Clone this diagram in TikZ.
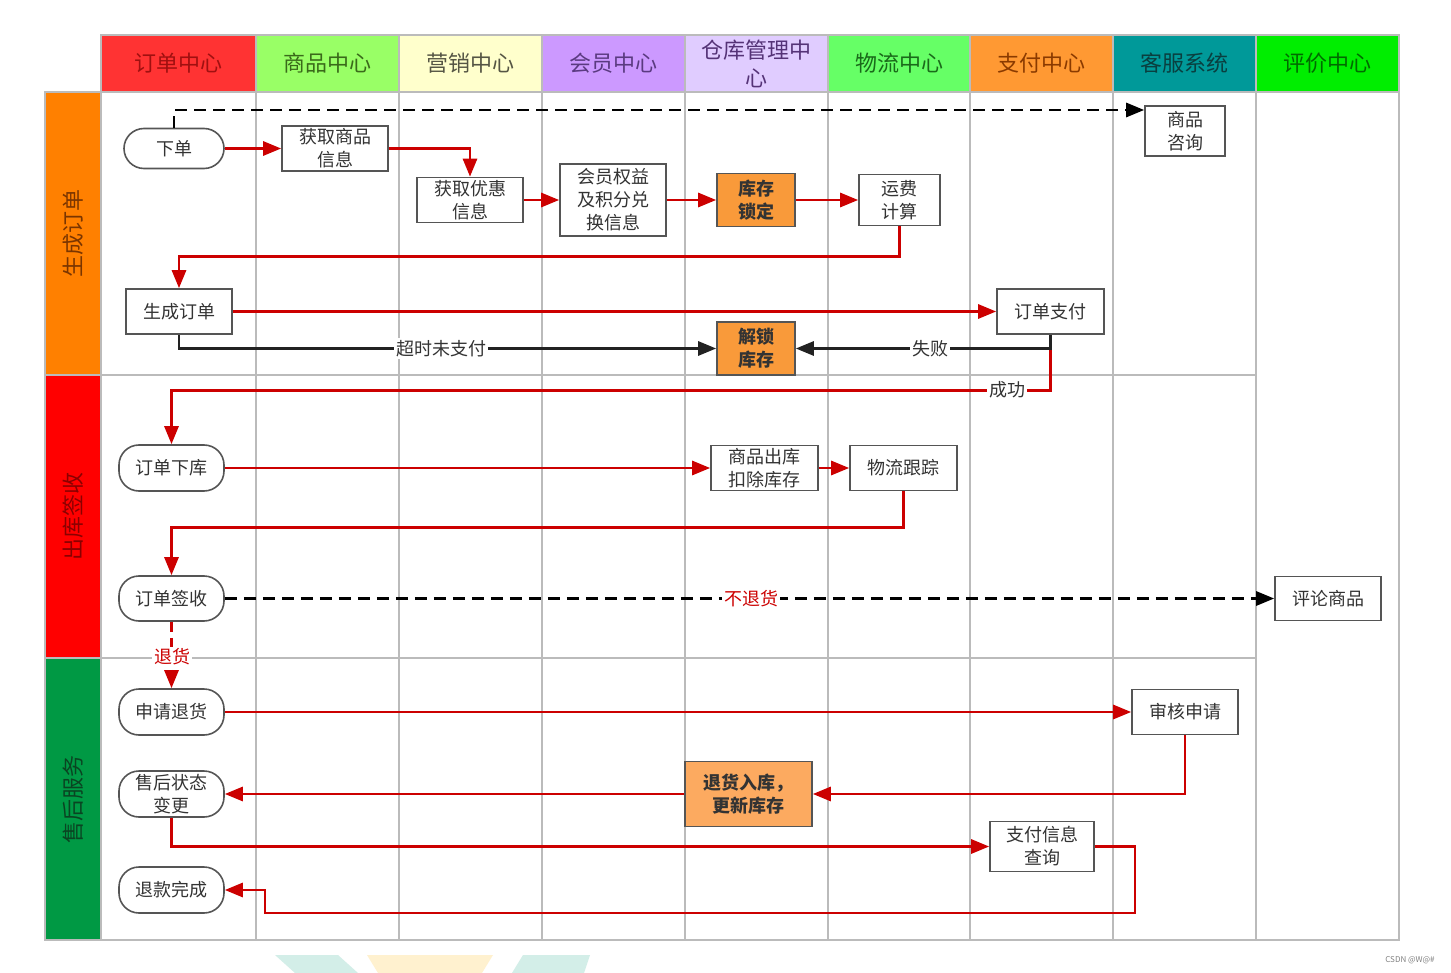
\documentclass[tikz,border=0pt]{standalone}
\usepackage{fontspec}
\setmainfont{Noto Sans CJK SC}
\usetikzlibrary{arrows.meta}
\definecolor{gridc}{HTML}{BBBBBB}
\definecolor{redl}{HTML}{CC0000}
\definecolor{blk}{HTML}{222222}
\definecolor{boxc}{HTML}{555555}
\definecolor{txt}{HTML}{333333}
\definecolor{orA}{HTML}{F99A3A}
\definecolor{orB}{HTML}{FCAA60}
\definecolor{h1}{HTML}{FF3333}\definecolor{t1}{HTML}{A01010}
\definecolor{h2}{HTML}{99FF66}\definecolor{t2}{HTML}{3A6A1A}
\definecolor{h3}{HTML}{FFFFCC}\definecolor{t3}{HTML}{555544}
\definecolor{h4}{HTML}{CC99FF}\definecolor{t4}{HTML}{5A3A80}
\definecolor{h5}{HTML}{E0CCFF}\definecolor{t5}{HTML}{553377}
\definecolor{h6}{HTML}{66FF66}\definecolor{t6}{HTML}{1A6A1A}
\definecolor{h7}{HTML}{FF9933}\definecolor{t7}{HTML}{8A3A00}
\definecolor{h8}{HTML}{009999}\definecolor{t8}{HTML}{0A3F3F}
\definecolor{h9}{HTML}{00EE00}\definecolor{t9}{HTML}{006A00}
\definecolor{l1}{HTML}{FF8000}\definecolor{lt1}{HTML}{7A3500}
\definecolor{l2}{HTML}{FF0000}\definecolor{lt2}{HTML}{8A0000}
\definecolor{l3}{HTML}{009944}\definecolor{lt3}{HTML}{0A4422}
\definecolor{wmteal}{HTML}{D3EEE8}
\definecolor{wmyel}{HTML}{FFF1CF}
\begin{document}
\begin{tikzpicture}[x=0.5pt,y=-0.5pt,
  hdr/.style={draw=gridc, line width=1pt, minimum height=28.5pt, inner sep=0pt, align=center, font=\fontsize{11}{14}\selectfont},
  lane/.style={draw=gridc, line width=1pt, rotate=90, minimum width=141.5pt, minimum height=28pt, inner sep=0pt, font=\fontsize{11}{14}\selectfont},
  box/.style={draw=boxc, line width=0.8pt, fill=white, text=txt, align=center, inner sep=0pt, font=\fontsize{9}{11.5}\selectfont},
  rbox/.style={box, rounded corners=10pt},
  obox/.style={box, fill=orA, font=\bfseries\fontsize{9}{11.5}\selectfont},
  lbl/.style={fill=white, inner sep=1pt, text=txt, font=\fontsize{9}{11}\selectfont},
  rl/.style={draw=redl, line width=1.4pt, -{Triangle[length=9pt,width=7pt]}},
  bl/.style={draw=blk, line width=1.4pt, -{Triangle[length=9pt,width=7pt]}},
  dk/.style={draw=black, line width=1.4pt, dash pattern=on 6pt off 3.5pt, -{Triangle[length=9pt,width=7pt]}},
  dr/.style={draw=redl, line width=1.4pt, dash pattern=on 5pt off 3pt, -{Triangle[length=9pt,width=7pt]}}
]
\useasboundingbox (0,0) rectangle (1451,973);
\fill[white] (0,0) rectangle (1451,973);
% watermark
\fill[wmteal] (275,955) -- (338,955) -- (358,973) -- (295,973) -- cycle;
\fill[wmyel] (367,955) -- (493,955) -- (482,973) -- (378,973) -- cycle;
\fill[wmteal] (523,955) -- (590,955) -- (584,973) -- (512,973) -- cycle;
\node[text=gray, font=\fontsize{4}{5}\selectfont, inner sep=0pt] (csdn) at (1410,960) {CSDN @W@\#};
% headers
\node[hdr, fill=h1, text=t1, minimum width=77.5pt] (H1) at (178.5,63.5) {订单中心};
\node[hdr, fill=h2, text=t2, minimum width=71.5pt] (H2) at (327.5,63.5) {商品中心};
\node[hdr, fill=h3, text=t3, minimum width=71.5pt] (H3) at (470.5,63.5) {营销中心};
\node[hdr, fill=h4, text=t4, minimum width=71.5pt] (H4) at (613.5,63.5) {会员中心};
\node[hdr, fill=h5, text=t5, minimum width=71.5pt] (H5) at (756.5,63.5) {仓库管理中\\心};
\node[hdr, fill=h6, text=t6, minimum width=71pt] (H6) at (899,63.5) {物流中心};
\node[hdr, fill=h7, text=t7, minimum width=71.5pt] (H7) at (1041.5,63.5) {支付中心};
\node[hdr, fill=h8, text=t8, minimum width=71.5pt] (H8) at (1184.5,63.5) {客服系统};
\node[hdr, fill=h9, text=t9, minimum width=71.5pt] (H9) at (1327.5,63.5) {评价中心};
% lanes
\node[lane, fill=l1, text=lt1] (L1) at (73,233.5) {生成订单};
\node[lane, fill=l2, text=lt2] (L2) at (73,516.5) {出库签收};
\node[lane, fill=l3, text=lt3, minimum width=141pt] (L3) at (73,799) {售后服务};
% grid
\draw[gridc, line width=1pt]
  (101,92) rectangle (1399,940)
  (101,375) -- (1256,375)
  (101,658) -- (1256,658)
  (256,92) -- (256,940) (399,92) -- (399,940) (542,92) -- (542,940)
  (685,92) -- (685,940) (828,92) -- (828,940) (970,92) -- (970,940)
  (1113,92) -- (1113,940) (1256,92) -- (1256,940);
% nodes
\node[rbox, minimum width=50pt, minimum height=20pt] (xd) at (174,148.5) {下单};
\node[box, minimum width=53pt, minimum height=22.5pt] (sp) at (335,148.5) {获取商品\\信息};
\node[box, minimum width=53pt, minimum height=22.5pt] (yh) at (470,200) {获取优惠\\信息};
\node[box, minimum width=53pt, minimum height=36pt] (hy) at (613,200) {会员权益\\及积分兑\\换信息};
\node[obox, minimum width=39pt, minimum height=26.5pt] (kc) at (756,200) {库存\\锁定};
\node[box, minimum width=40.5pt, minimum height=25.5pt] (yf) at (899.5,200) {运费\\计算};
\node[box, minimum width=40pt, minimum height=25pt] (zx) at (1185,131) {商品\\咨询};
\node[box, minimum width=53pt, minimum height=22.5pt] (sc) at (179,311.5) {生成订单};
\node[box, minimum width=53.5pt, minimum height=22.5pt] (zf) at (1050.5,311.5) {订单支付};
\node[obox, minimum width=39pt, minimum height=26.5pt] (js) at (756,348.5) {解锁\\库存};
\node[rbox, minimum width=52.5pt, minimum height=23pt] (xk) at (171.5,468) {订单下库};
\node[box, minimum width=53.5pt, minimum height=22.5pt] (ck) at (764.5,468) {商品出库\\扣除库存};
\node[box, minimum width=53.5pt, minimum height=22.5pt] (wl) at (903.5,468) {物流跟踪};
\node[rbox, minimum width=52.5pt, minimum height=22.5pt] (qs) at (171.5,598.5) {订单签收};
\node[box, minimum width=53pt, minimum height=22pt] (pl) at (1328,598.5) {评论商品};
\node[rbox, minimum width=52.5pt, minimum height=23pt] (sq) at (171.5,712) {申请退货};
\node[box, minimum width=53pt, minimum height=22.5pt] (sh) at (1185,712) {审核申请};
\node[rbox, minimum width=52.5pt, minimum height=23pt] (bg) at (171.5,794) {售后状态\\变更};
\node[obox, fill=orB, minimum width=63.5pt, minimum height=32.5pt] (th) at (748.5,794) {退货入库，\\更新库存};
\node[box, minimum width=52pt, minimum height=25pt] (zc) at (1042,846.5) {支付信息\\查询};
\node[rbox, minimum width=52.5pt, minimum height=23pt] (tk) at (171.5,890) {退款完成};
% connectors
\draw[dk] (xd.north) |- ([yshift=10.5pt]zx.west);
\draw[rl] (xd.east) -- (sp.west);
\draw[rl] (sp.east) -| (yh.north);
\draw[rl] (yh.east) -- (hy.west);
\draw[rl] (hy.east) -- (kc.west);
\draw[rl] (kc.east) -- (yf.west);
\draw[rl] (yf.south) -- ++(0,30) -| (sc.north);
\draw[rl] (sc.east) -- (zf.west);
\draw[rl] (zf.south) -- ++(0,56) -| (xk.north);
\draw[bl] (sc.south) |- (js.west);
\draw[bl] (zf.south) |- (js.east);
\draw[rl] (xk.east) -- (ck.west);
\draw[rl] (ck.east) -- (wl.west);
\draw[rl] (wl.south) -- ++(0,36) -| (qs.north);
\draw[dk] (qs.east) -- (pl.west);
\draw[dr] (qs.south) -- (sq.north);
\draw[rl] (sq.east) -- (sh.west);
\draw[rl] (sh.south) |- (th.east);
\draw[rl] (th.west) -- (bg.east);
\draw[rl] (bg.south) |- (zc.west);
\draw[rl] (zc.east) -- (1135,846.5) -- (1135,913) -- (265,913) |- (tk.east);
% labels
\node[lbl] (lb1) at (441,348.5) {超时未支付};
\node[lbl] (lb2) at (930,348.5) {失败};
\node[lbl] (lb3) at (1007,390) {成功};
\node[lbl, text=redl] (lb4) at (751,598.5) {不退货};
\node[lbl, text=redl] (lb5) at (172,657) {退货};
\end{tikzpicture}
\end{document}
